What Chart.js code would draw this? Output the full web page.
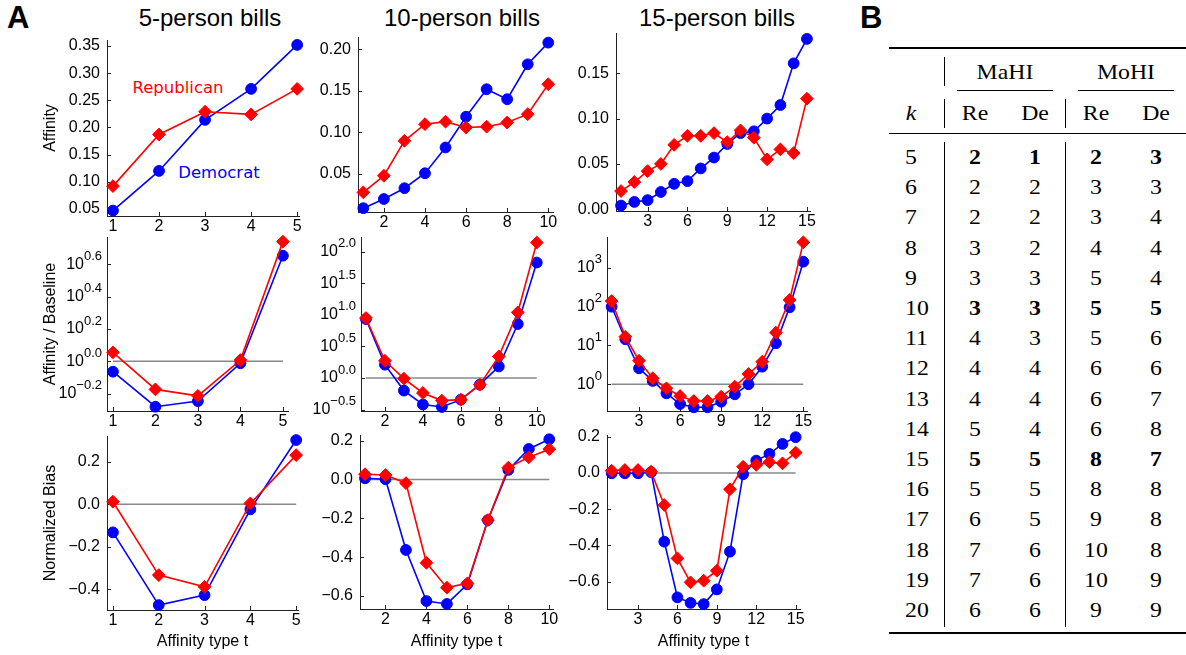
<!DOCTYPE html>
<html>
<head>
<meta charset="utf-8">
<script src="https://cdn.jsdelivr.net/npm/chart.js"></script>
<style>
  body { margin: 0; width: 1186px; height: 655px; background: #fff; position: relative; overflow: hidden;
         font-family: 'Liberation Sans', Arial, sans-serif; color: #000; }
  canvas { position: absolute; }
  .txt { position: absolute; white-space: nowrap; transform: translate(-50%, -50%); }
  .colTitle { font-size: 24px; }
  .letter { position: absolute; font-size: 31px; font-weight: bold; line-height: 31px; }
  .party { font-family: 'DejaVu Sans', sans-serif; font-size: 16.5px; }
  .tab { position: absolute; white-space: nowrap; font-family: 'Liberation Serif', 'DejaVu Serif', serif; font-size: 22px;
         transform: translate(-50%, -50%) scaleX(1.08); line-height: 1; }
  .kcell { transform: translate(0, -50%) scaleX(1.08); transform-origin: left center; }
  .rule { position: absolute; background: #000; }
</style>
</head>
<body>
<div class="letter" style="left:7px; top:2px;">A</div>
<div class="letter" style="left:860px; top:2px;">B</div>
<div class="txt colTitle" style="left:210px; top:18px;">5-person bills</div>
<div class="txt colTitle" style="left:462px; top:18px;">10-person bills</div>
<div class="txt colTitle" style="left:717px; top:18px;">15-person bills</div>
<div class="txt party" style="left:178px; top:87px; color:#ff0000;">Republican</div>
<div class="txt party" style="left:219px; top:172px; color:#0000ff;">Democrat</div>

<script>
// affinity type t on the x axes
const t5 = [1, 2, 3, 4, 5];
const t10 = [1, 2, 3, 4, 5, 6, 7, 8, 9, 10];
const t15 = [1, 2, 3, 4, 5, 6, 7, 8, 9, 10, 11, 12, 13, 14, 15];

// x tick labels
const ticks5 = [1, 2, 3, 4, 5];
const ticks10 = [2, 4, 6, 8, 10];
const ticks15 = [3, 6, 9, 12, 15];

// affinity
const affinity5Rep = [0.092, 0.187, 0.229, 0.224, 0.271];
const affinity5Dem = [0.047, 0.120, 0.214, 0.271, 0.352];
const affinity10Rep = [0.028, 0.048, 0.090, 0.110, 0.113, 0.106, 0.107, 0.112, 0.122, 0.158];
const affinity10Dem = [0.009, 0.020, 0.033, 0.051, 0.082, 0.119, 0.152, 0.140, 0.182, 0.208];
const affinity15Rep = [0.020, 0.030, 0.042, 0.050, 0.071, 0.081, 0.081, 0.084, 0.074, 0.087, 0.079, 0.055, 0.066, 0.062, 0.122];
const affinity15Dem = [0.004, 0.008, 0.010, 0.019, 0.028, 0.031, 0.045, 0.057, 0.072, 0.084, 0.086, 0.100, 0.115, 0.161, 0.188];
const affinityTicks5 = [0.05, 0.10, 0.15, 0.20, 0.25, 0.30, 0.35];
const affinityTicks10 = [0.05, 0.10, 0.15, 0.20];
const affinityTicks15 = [0.00, 0.05, 0.10, 0.15];

// affinity / baseline (log scale)
const ratio5Rep = [1.137, 0.671, 0.612, 1.019, 5.50];
const ratio5Dem = [0.863, 0.524, 0.568, 0.973, 4.50];
const ratio10Rep = [8.87, 1.87, 0.975, 0.579, 0.438, 0.454, 0.783, 2.19, 10.9, 138.7];
const ratio10Dem = [8.55, 1.62, 0.631, 0.380, 0.347, 0.454, 0.783, 1.52, 7.13, 67.0];
const ratio15Rep = [139, 16.8, 4.05, 1.43, 0.789, 0.50, 0.372, 0.372, 0.48, 0.867, 1.84, 3.81, 21.3, 147.6, 4498];
const ratio15Dem = [99.1, 14.4, 2.58, 1.22, 0.586, 0.311, 0.256, 0.256, 0.356, 0.553, 1.0, 2.84, 11.35, 95.7, 1426];
const ratioExp5 = [-0.2, 0, 0.2, 0.4, 0.6];
const ratioExp10 = [-0.5, 0, 0.5, 1, 1.5, 2];
const ratioExp15 = [0, 1, 2, 3];

// normalized bias
const bias5Rep = [0.012, -0.333, -0.388, 0.004, 0.231];
const bias5Dem = [-0.132, -0.474, -0.427, -0.024, 0.302];
const bias10Rep = [0.027, 0.023, -0.019, -0.429, -0.557, -0.535, -0.209, 0.061, 0.114, 0.156];
const bias10Dem = [0.006, 0.001, -0.363, -0.626, -0.641, -0.540, -0.209, 0.049, 0.157, 0.207];
const bias15Rep = [0.012, 0.016, 0.016, 0.007, -0.177, -0.471, -0.603, -0.594, -0.539, -0.090, 0.034, 0.044, 0.059, 0.053, 0.112];
const bias15Dem = [-0.002, -0.002, -0.002, 0.004, -0.379, -0.686, -0.716, -0.723, -0.642, -0.434, -0.007, 0.068, 0.105, 0.160, 0.197];
const biasTicks5 = [-0.4, -0.2, 0.0, 0.2];
const biasTicks10 = [-0.6, -0.4, -0.2, 0.0, 0.2];
const biasTicks15 = [-0.6, -0.4, -0.2, 0.0, 0.2];

// table B
const tableK = [5, 6, 7, 8, 9, 10, 11, 12, 13, 14, 15, 16, 17, 18, 19, 20];
const mahiRe = [2, 2, 2, 3, 3, 3, 4, 4, 4, 5, 5, 5, 6, 7, 7, 6];
const mahiDe = [1, 2, 2, 2, 3, 3, 3, 4, 4, 4, 5, 5, 5, 6, 6, 6];
const mohiRe = [2, 3, 3, 4, 5, 5, 5, 6, 6, 6, 8, 8, 9, 10, 10, 9];
const mohiDe = [3, 3, 4, 4, 4, 5, 6, 6, 7, 8, 7, 8, 8, 8, 9, 9];
const boldK = [5, 10, 15];

const FONT = "'Liberation Sans', Arial, sans-serif";
const RED = '#ff0000';
const BLUE = '#0000ff';
const AXIS = '#222';

Chart.defaults.font.family = FONT;
Chart.defaults.font.size = 16;
Chart.defaults.color = '#000';

const minus = s => s.replace('-', '\u2212');

// small tick marks pointing into the plot
const innerTicks = {
  id: 'innerTicks',
  beforeDatasetsDraw(chart) {
    const { ctx, chartArea: a, scales: { x, y } } = chart;
    ctx.save();
    ctx.strokeStyle = AXIS;
    ctx.lineWidth = 1;
    ctx.beginPath();
    x.ticks.forEach(t => {
      const px = Math.round(x.getPixelForValue(t.value)) + 0.5;
      ctx.moveTo(px, a.bottom); ctx.lineTo(px, a.bottom - 4);
    });
    y.ticks.forEach(t => {
      const py = Math.round(y.getPixelForValue(t.value)) + 0.5;
      ctx.moveTo(a.left, py); ctx.lineTo(a.left + 4, py);
    });
    ctx.stroke();
    ctx.restore();
  }
};

// "10" with a raised exponent for the log axes
const powerLabels = {
  id: 'powerLabels',
  afterDraw(chart, args, opts) {
    const s = chart.scales.y;
    if (s.type !== 'logarithmic') return;
    const ctx = chart.ctx;
    const right = chart.chartArea.left - 5;
    ctx.save();
    ctx.fillStyle = '#000';
    ctx.textBaseline = 'middle';
    ctx.textAlign = 'right';
    s.ticks.forEach(t => {
      const y = s.getPixelForValue(t.value);
      const e = Math.round(Math.log10(t.value) * 100) / 100;
      const exp = minus(e.toFixed(opts.digits || 0));
      ctx.font = '13px ' + FONT;
      const ew = ctx.measureText(exp).width;
      ctx.fillText(exp, right, y - 8);
      ctx.font = '16px ' + FONT;
      ctx.fillText('10', right - ew, y);
    });
    ctx.restore();
  }
};

Chart.register(innerTicks, powerLabels);

const panels = [
  { rect: [107, 40, 299, 216], t: t5, rep: affinity5Rep, dem: affinity5Dem, xr: [0.87, 5.04], xt: ticks5,
    yr: [0.037, 0.361], yt: affinityTicks5, fmt: v => v.toFixed(2), yTitle: 'Affinity' },
  { rect: [358, 37, 553, 212], t: t10, rep: affinity10Rep, dem: affinity10Dem, xr: [0.74, 10.23], xt: ticks10,
    yr: [0.0044, 0.2148], yt: affinityTicks10, fmt: v => v.toFixed(2) },
  { rect: [616, 33, 810, 211], t: t15, rep: affinity15Rep, dem: affinity15Dem, xr: [0.62, 15.23], xt: ticks15,
    yr: [-0.002, 0.1945], yt: affinityTicks15, fmt: v => v.toFixed(2) },

  { rect: [107, 237, 288, 411], t: t5, rep: ratio5Rep, dem: ratio5Dem, xr: [0.86, 5.12], xt: ticks5,
    log: true, yr: [-0.307, 0.769], yt: ratioExp5, digits: 1, ref: 1, yTitle: 'Affinity / Baseline' },
  { rect: [361, 237, 540, 411], t: t10, rep: ratio10Rep, dem: ratio10Dem, xr: [0.74, 10.17], xt: ticks10,
    log: true, yr: [-0.517, 2.23], yt: ratioExp10, digits: 1, ref: 1 },
  { rect: [607, 237, 807, 411], t: t15, rep: ratio15Rep, dem: ratio15Dem, xr: [0.66, 15.27], xt: ticks15,
    log: true, yr: [-0.687, 3.79], yt: ratioExp15, digits: 0, ref: 1 },

  { rect: [107, 436, 298, 610], t: t5, rep: bias5Rep, dem: bias5Dem, xr: [0.87, 5.04], xt: ticks5,
    yr: [-0.497, 0.321], yt: biasTicks5, fmt: v => minus(v.toFixed(1)), ref: 0, yTitle: 'Normalized Bias', xTitle: true },
  { rect: [360, 435, 553, 609], t: t10, rep: bias10Rep, dem: bias10Dem, xr: [0.756, 10.18], xt: ticks10,
    yr: [-0.667, 0.229], yt: biasTicks10, fmt: v => minus(v.toFixed(1)), ref: 0, xTitle: true },
  { rect: [607, 435, 800, 609], t: t15, rep: bias15Rep, dem: bias15Dem, xr: [0.64, 15.33], xt: ticks15,
    yr: [-0.75, 0.209], yt: biasTicks15, fmt: v => minus(v.toFixed(1)), ref: 0, xTitle: true }
];

function makePanel(p) {
  const [L, T, R, B] = p.rect;
  const padTop = 10, padRight = 14;
  const yW = p.yTitle ? L - 37 : 62;
  const xH = p.xTitle ? 655 - B : 22;
  const left = L - yW, top = T - padTop;
  const w = R + padRight - left, h = B + xH - top;

  const cv = document.createElement('canvas');
  cv.width = w; cv.height = h;
  cv.style.left = left + 'px'; cv.style.top = top + 'px';
  cv.style.width = w + 'px'; cv.style.height = h + 'px';
  document.body.appendChild(cv);

  const pts = arr => p.t.map((x, i) => ({ x, y: arr[i] }));
  const datasets = [
    { label: 'Republican', data: pts(p.rep), borderColor: RED, backgroundColor: RED,
      pointStyle: 'rectRot', pointRadius: 6.4, pointBorderWidth: 1, borderWidth: 1.6, clip: false },
    { label: 'Democrat', data: pts(p.dem), borderColor: BLUE, backgroundColor: BLUE,
      pointStyle: 'circle', pointRadius: 5.4, pointBorderWidth: 1, borderWidth: 1.6, clip: false }
  ];
  if (p.ref !== undefined) {
    datasets.push({ label: 'reference', data: [{ x: p.t[0], y: p.ref }, { x: p.t[p.t.length - 1], y: p.ref }],
      borderColor: '#888', borderWidth: 1.5, pointRadius: 0 });
  }

  const noPad = s => { s.paddingTop = 0; s.paddingBottom = 0; s.paddingLeft = 0; s.paddingRight = 0; };

  const yScale = {
    position: 'left',
    afterBuildTicks: s => { s.ticks = p.yt.map(v => ({ value: p.log ? Math.pow(10, v) : v })); },
    afterFit: s => { s.width = yW; noPad(s); },
    grid: { display: true, drawOnChartArea: false, drawTicks: false },
    border: { color: AXIS, width: 1 },
    title: { display: !!p.yTitle, text: p.yTitle || '', font: { size: 16 }, padding: { top: 4, bottom: 4 } }
  };
  if (p.log) {
    Object.assign(yScale, { type: 'logarithmic', min: Math.pow(10, p.yr[0]), max: Math.pow(10, p.yr[1]),
      ticks: { display: false } });
  } else {
    Object.assign(yScale, { type: 'linear', min: p.yr[0], max: p.yr[1],
      ticks: { padding: 7, callback: v => p.fmt(v) } });
  }

  new Chart(cv, {
    type: 'line',
    data: { datasets },
    options: {
      responsive: false,
      animation: false,
      events: [],
      layout: { padding: { top: padTop, right: padRight, left: 0, bottom: 0 }, autoPadding: false },
      plugins: { legend: { display: false }, tooltip: { enabled: false }, powerLabels: { digits: p.digits } },
      elements: { line: { tension: 0 } },
      scales: {
        x: {
          type: 'linear', position: 'bottom', min: p.xr[0], max: p.xr[1],
          afterBuildTicks: s => { s.ticks = p.xt.map(v => ({ value: v })); },
          afterFit: s => { s.height = xH; noPad(s); },
          ticks: { padding: 1, maxRotation: 0, autoSkip: false, callback: v => String(v) },
          grid: { display: true, drawOnChartArea: false, drawTicks: false },
          border: { color: AXIS, width: 1 },
          title: { display: !!p.xTitle, text: 'Affinity type t', font: { size: 16 }, padding: { top: 4, bottom: 4 } }
        },
        y: yScale
      }
    }
  });
}

panels.forEach(makePanel);

// table B
function addText(cls, text, x, y, extra) {
  const d = document.createElement('div');
  d.className = cls;
  d.textContent = text;
  d.style.left = x + 'px';
  d.style.top = y + 'px';
  if (extra) Object.assign(d.style, extra);
  document.body.appendChild(d);
}
function addRule(x, y, w, h) {
  const d = document.createElement('div');
  d.className = 'rule';
  Object.assign(d.style, { left: x + 'px', top: y + 'px', width: w + 'px', height: h + 'px' });
  document.body.appendChild(d);
}

const colX = [975, 1035, 1096, 1156];
const rowY0 = 157, rowStep = 30.2;

addRule(889, 47, 297, 2);
addText('tab', 'MaHI', 1005, 72);
addText('tab', 'MoHI', 1126, 72);
addRule(957, 90, 96, 1);
addRule(1078, 90, 96, 1);
addText('tab', 'k', 911, 113, { fontStyle: 'italic' });
['Re', 'De', 'Re', 'De'].forEach((s, i) => addText('tab', s, colX[i], 113));
addRule(889, 133, 297, 1.3);
addRule(944, 57, 1, 29);
addRule(944, 99, 1, 29);
addRule(1065, 99, 1, 29);
addRule(944, 142, 1, 485);
addRule(1065, 142, 1, 485);

tableK.forEach((k, i) => {
  const y = rowY0 + i * rowStep;
  const weight = boldK.includes(k) ? { fontWeight: 'bold' } : null;
  addText('tab kcell', String(k), 905, y);
  [mahiRe, mahiDe, mohiRe, mohiDe].forEach((col, j) => addText('tab', String(col[i]), colX[j], y, weight));
});
addRule(889, 632, 297, 2);
</script>
</body>
</html>
